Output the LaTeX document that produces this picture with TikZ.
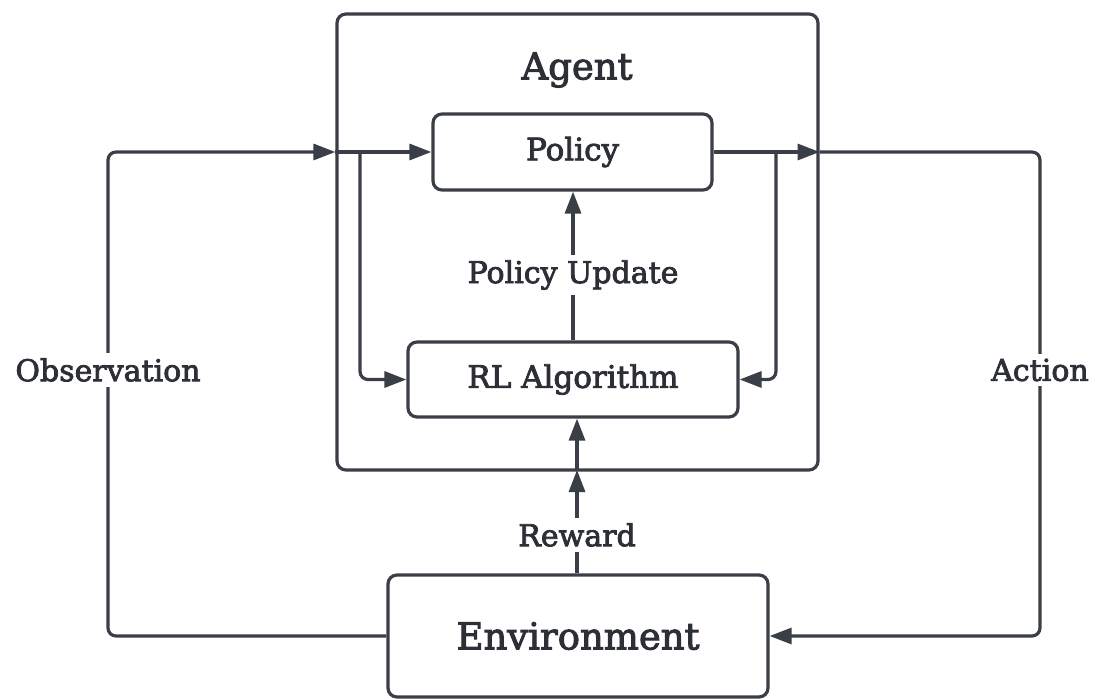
\documentclass[tikz,border=0pt]{standalone}
\usepackage{fontspec}
\setmainfont{DejaVu Serif}
\newfontfamily\lblfont{DejaVu Serif}[FakeBold=2.6]
\usetikzlibrary{arrows.meta}
\definecolor{linec}{HTML}{3A3E47}
\definecolor{textc}{HTML}{2C2F35}
\begin{document}
\begin{tikzpicture}[x=1pt,y=-1pt,
  box/.style={draw=linec, line width=3.2pt, rounded corners=9pt, fill=white, text=textc},
  plain/.style={draw=linec, line width=3.2pt, rounded corners=8pt},
  flow/.style={plain, -{Triangle[length=22pt,width=16pt]}},
  lbl/.style={fill=white, text=textc, font=\lblfont\fontsize{30}{36}\selectfont, inner sep=5pt},
  boxfont/.style={font=\lblfont\fontsize{31}{37}\selectfont},
  bigfont/.style={font=\lblfont\fontsize{37}{44}\selectfont}]
\useasboundingbox (0,0) rectangle (1095,700);

% agent frame and title
\node[box, fill=none, minimum width=481pt, minimum height=456pt] (agent) at (577.5,242) {};
\node[text=textc, bigfont] (agenttitle) at (577,70) {Agent};

% inner blocks and environment
\node[box, boxfont, minimum width=279pt, minimum height=76pt] (policy) at (572.5,152) {Policy};
\node[box, boxfont, minimum width=330pt, minimum height=75pt] (rl) at (573,379.5) {RL Algorithm};
\node[box, bigfont, minimum width=380pt, minimum height=122pt] (env) at (578,636) {Environment};

% helper points on the frame and on the outer loops
\coordinate (obsin) at (agent.west |- policy);
\coordinate (obscorner) at (108,152);
\coordinate (obsbranch) at (360,152);
\coordinate (actout) at (agent.east |- policy);
\coordinate (actcorner) at (1040,152);
\coordinate (actbranch) at (776,152);
\coordinate (rewin) at (577,470);

% observation loop
\draw[flow] (env.west) -| (obscorner) -- (obsin);
\draw[flow] (obsin) -- (policy.west);
\draw[flow] (obsbranch) |- (rl.west);

% action loop
\draw[flow] (policy.east) -- (actout);
\draw[flow] (actout) -- (actcorner) |- (env.east);
\draw[flow] (actbranch) |- (rl.east);

% policy update and reward
\draw[flow] (rl.north) -- (rl.north |- policy.south);
\draw[flow] (rewin |- env.north) -- (rewin);
\draw[flow] (rewin) -- (rewin |- rl.south);

% edge labels
\node[lbl] (obslabel) at (108,370) {Observation};
\node[lbl] (actlabel) at (1040,370) {Action};
\node[lbl] (updlabel) at (573,275) {Policy Update};
\node[lbl] (rewlabel) at (577,535) {Reward};
\end{tikzpicture}
\end{document}
